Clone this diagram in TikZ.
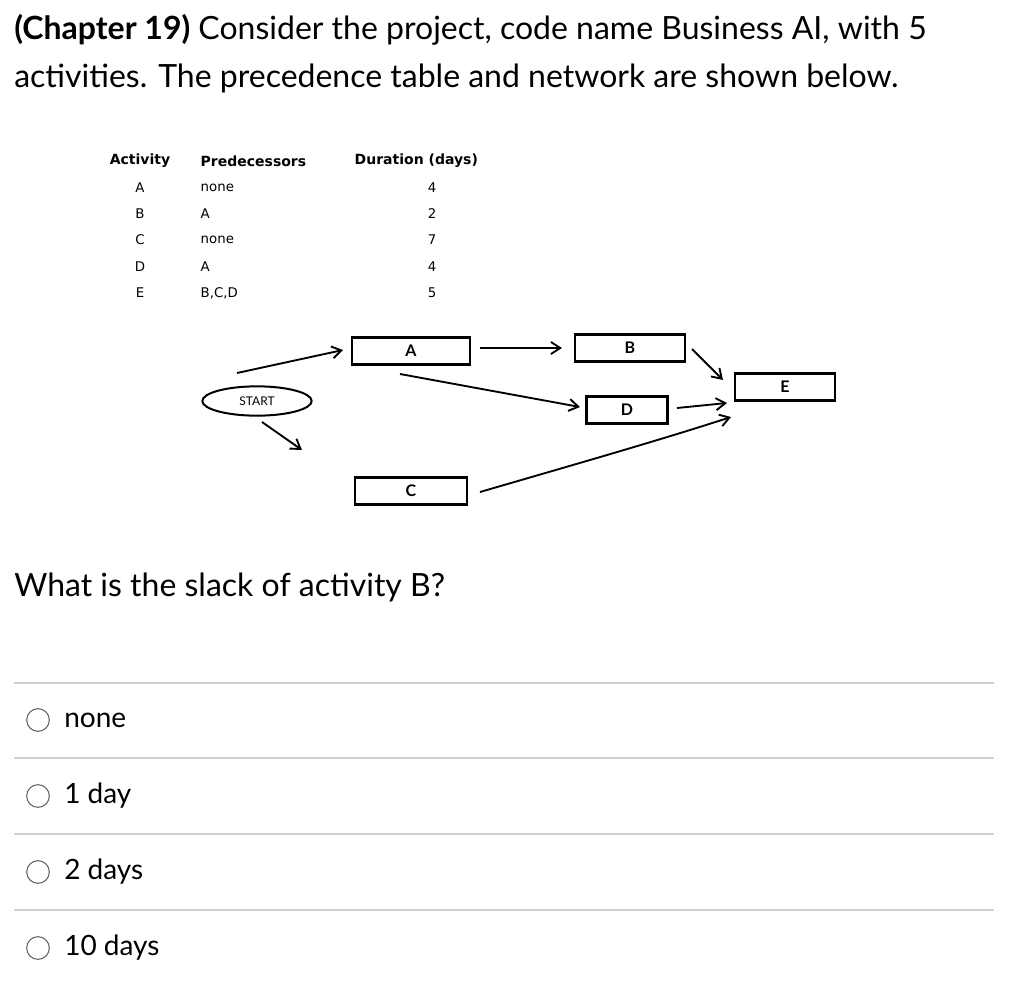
\documentclass[tikz,border=0pt]{standalone}
\usepackage{fontspec}
\setmainfont{Lato}
\newfontfamily\tabfont{DejaVu Sans}
\usetikzlibrary{shapes.geometric,arrows.meta}
\begin{document}
\begin{tikzpicture}[x=0.75pt,y=-0.75pt,
  box/.style={draw,line width=1.8pt,minimum width=#1*0.75pt,minimum height=20pt,font=\fontsize{12}{12}\selectfont\bfseries,inner sep=0pt},
  arr/.style={-{Straight Barb[length=7pt,width=9pt,line width=1.4pt]},line width=1.4pt},
  tb/.style={font=\tabfont\fontsize{10}{12}\selectfont},
  th/.style={font=\tabfont\fontsize{10.5}{12}\selectfont\bfseries},
  ans/.style={font=\fontsize{21}{24}\selectfont,anchor=west},
  sep/.style={draw=black!18,line width=0.8pt},
  radio/.style={draw=black!60,line width=0.8pt,circle,minimum size=17pt,inner sep=0pt}]
\useasboundingbox (0,0) rectangle (1026,990);
\node[anchor=west,font=\fontsize{24}{28}\selectfont,inner sep=0pt] (t1) at (14,30) {\textbf{(Chapter 19)} Consider the project, code name Business AI, with 5};
\node[anchor=west,font=\fontsize{24}{28}\selectfont,inner sep=0pt] (t2) at (14,78) {activities. The precedence table and network are shown below.};
% table
\node[th] (h1) at (140,161) {Activity};
\node[th,anchor=west] (h2) at (196,161) {Predecessors};
\node[th,anchor=west] (h3) at (350,161) {Duration (days)};
\foreach \a/\p/\d/\y in {A/none/4/188,B/A/2/214,C/none/7/240,D/A/4/267,E/{B,C,D}/5/293}{
  \node[tb] (ra\a) at (140,\y) {\a};
  \node[tb,anchor=west] (rp\a) at (196,\y) {\p};
  \node[tb] (rd\a) at (432,\y) {\d};
}
% network
\node[draw,ellipse,line width=1.5pt,minimum width=82pt,minimum height=22pt,inner sep=0pt,font=\fontsize{9}{10}\selectfont] (S) at (257,401) {START};
\node[box=118] (A) at (411,351) {A};
\node[box=110] (B) at (630,348) {B};
\node[box=81] (D) at (627,410) {D};
\node[box=100] (E) at (785,387) {E};
\node[box=112] (C) at (411,491) {C};
\coordinate (sA) at (237,373); \coordinate (eA) at (343,350);
\draw[arr] (sA) -- (eA);
\coordinate (a1) at (480,348); \coordinate (b0) at (562,348);
\draw[arr] (a1) -- (b0);
\coordinate (a2) at (400,374); \coordinate (d0) at (580,407);
\draw[arr] (a2) -- (d0);
\coordinate (s2) at (262,422); \coordinate (s3) at (302,450);
\draw[arr] (s2) -- (s3);
\coordinate (b1) at (692,349); \coordinate (e1) at (723,380);
\draw[arr] (b1) -- (e1);
\coordinate (d1) at (677,408); \coordinate (e2) at (727,403);
\draw[arr] (d1) -- (e2);
\coordinate (c1) at (480,492); \coordinate (e3) at (731,417);
\draw[arr] (c1) .. controls (590,460) and (660,440) .. (e3);
\node[anchor=west,font=\fontsize{24}{28}\selectfont,inner sep=0pt] (q) at (14,587) {What is the slack of activity B?};
\foreach \y in {683,758,834,910}{\draw[sep] (14,\y) -- (994,\y);}
\foreach \y/\t/\n in {720/none/1,796/1 day/2,872/2 days/3,948/10 days/4}{
  \node[radio] (r\n) at (38,\y) {};
  \node[ans,inner sep=0pt] (l\n) at (64,\y) {\t};
}
\end{tikzpicture}
\end{document}
